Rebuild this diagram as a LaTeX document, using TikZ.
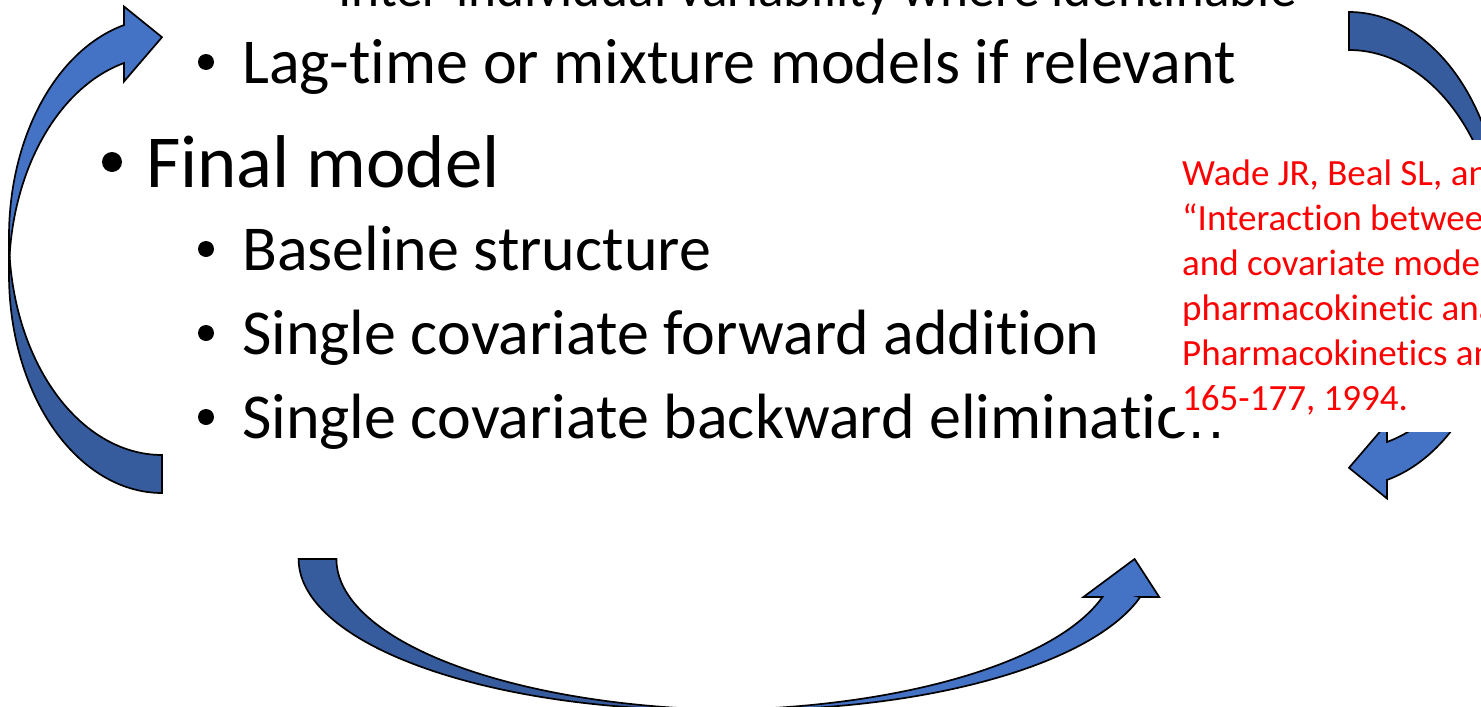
\documentclass[tikz,border=0pt]{standalone}
\usepackage{fontspec}
\setmainfont[Ligatures=NoCommon]{Carlito}
\definecolor{arrowlight}{RGB}{68,114,196}
\definecolor{arrowdark}{RGB}{55,92,158}
\definecolor{refred}{RGB}{255,0,0}

% curved side arrow: darker tail half and lighter head half, built from two offset ellipses
\newcommand{\sidearrowshape}{%
  \filldraw[arrowedge,fill=arrowdark]
    (162,493)
    -- plot[domain=90:180,samples=60,variable=\ang] ({162+153*cos(\ang)},{274.6+218.4*sin(\ang)})
    -- (9,236.6)
    -- plot[domain=180:90,samples=60,variable=\ang] ({162+153*cos(\ang)},{236.6+218.4*sin(\ang)})
    -- cycle;
  \filldraw[arrowedge,fill=arrowlight]
    (9,274.6)
    -- plot[domain=180:255.62,samples=60,variable=\ang] ({162+153*cos(\ang)},{274.6+218.4*sin(\ang)})
    -- (124,81.5) -- (162,37.2) -- (124,6.5) -- (124,25.0)
    -- plot[domain=255.62:180,samples=60,variable=\ang] ({162+153*cos(\ang)},{236.6+218.4*sin(\ang)})
    -- cycle;
}

\begin{document}
\begin{tikzpicture}[x=1pt,y=-1pt,
  arrowedge/.style={draw=black,line width=1.7pt,line join=miter},
  lvlthree/.style={anchor=base west,inner sep=0pt,font=\fontsize{53.3}{64}\selectfont},
  lvltwo/.style={anchor=base west,inner sep=0pt,font=\fontsize{64}{77}\selectfont},
  lvlone/.style={anchor=base west,inner sep=0pt,font=\fontsize{74.8}{90}\selectfont},
  dotsmall/.style={circle,fill=black,inner sep=0pt,minimum size=16pt},
  dotbig/.style={circle,fill=black,inner sep=0pt,minimum size=20pt},
  reftext/.style={anchor=base west,inner sep=0pt,text=refred,font=\fontsize{37}{45}\selectfont}]

\useasboundingbox (0,0) rectangle (1481,707);
\clip (0,0) rectangle (1481,707);
\fill[white] (0,0) rectangle (1481,707);

% left and right arrows of the cycle
\sidearrowshape
\begin{scope}[rotate around={180:(755.5,252.5)}]
  \sidearrowshape
\end{scope}

% bottom arrow
\filldraw[arrowedge,fill=arrowdark]
  (298.6,559)
  -- plot[domain=180:90,samples=80,variable=\ang] ({707.1+408.5*cos(\ang)},{559+151*sin(\ang)})
  -- (744.9,710)
  -- plot[domain=90:180,samples=80,variable=\ang] ({744.9+408.5*cos(\ang)},{559+151*sin(\ang)})
  -- cycle;
\filldraw[arrowedge,fill=arrowlight]
  (707.1,710)
  -- plot[domain=90:14.58,samples=80,variable=\ang] ({707.1+408.5*cos(\ang)},{559+151*sin(\ang)})
  -- (1083.4,597) -- (1134.6,559) -- (1159.2,597) -- (1140.2,597)
  -- plot[domain=14.58:90,samples=80,variable=\ang] ({744.9+408.5*cos(\ang)},{559+151*sin(\ang)})
  -- cycle;

% bullet list
\node[lvlthree] (iiv) at (338,6) {Inter-individual variability where identifiable};
\node[dotsmall] (b1) at (206,62) {};
\node[lvltwo] (lag) at (242,83) {Lag-time or mixture models if relevant};
\node[dotbig] (b0) at (112,162) {};
\node[lvlone] (final) at (146,187) {Final model};
\node[dotsmall] (b2) at (206,249) {};
\node[lvltwo] (base) at (242,270) {Baseline structure};
\node[dotsmall] (b3) at (206,333) {};
\node[lvltwo] (fwd) at (242,354) {Single covariate forward addition};
\node[dotsmall] (b4) at (206,417) {};
\node[lvltwo] (bwd) at (242,438) {Single covariate backward elimination};

% reference box
\fill[white] (1175,140) rectangle (1490,431.5);
\node[reftext] (r1) at (1182,185) {Wade JR, Beal SL, and};
\node[reftext] (r2) at (1182,230) {“Interaction between};
\node[reftext] (r3) at (1182,275) {and covariate models};
\node[reftext] (r4) at (1182,320) {pharmacokinetic analysis};
\node[reftext] (r5) at (1182,365) {Pharmacokinetics and};
\node[reftext] (r6) at (1182,410) {165-177, 1994.};
\end{tikzpicture}
\end{document}
